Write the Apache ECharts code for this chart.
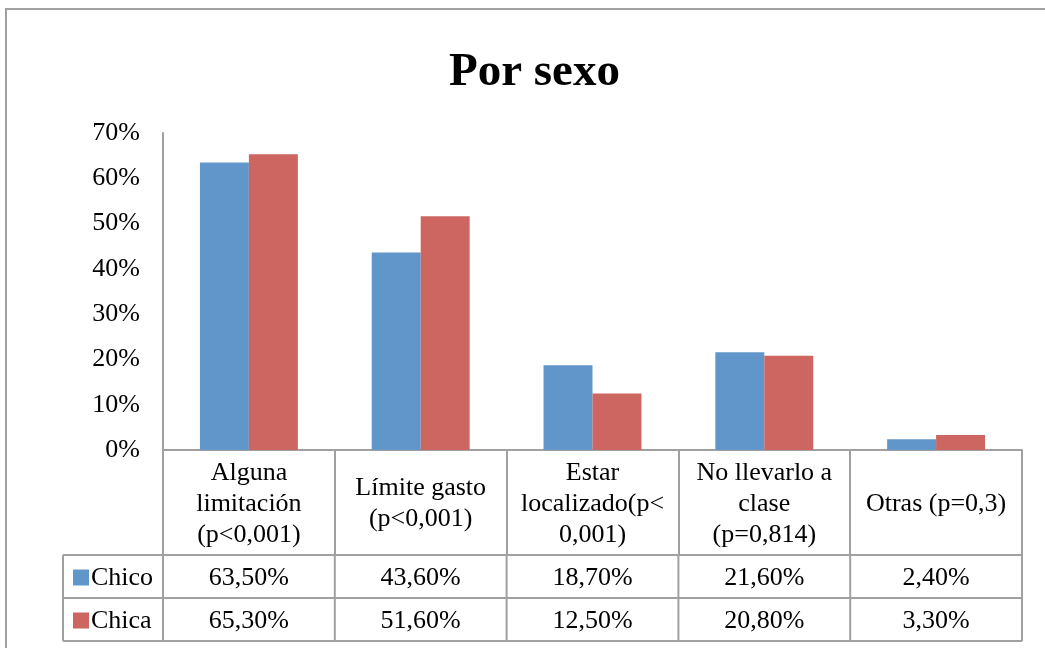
<!DOCTYPE html>
<html>
<head>
<meta charset="utf-8">
<script src="https://cdn.jsdelivr.net/npm/echarts@6/dist/echarts.min.js"></script>
<style>
  html, body { margin: 0; padding: 0; background: #fff; }
  #chart { width: 1045px; height: 648px; }
</style>
</head>
<body>
<div id="chart"></div>
<script>
const categories = [
  'Alguna\nlimitación\n(p<0,001)',
  'Límite gasto\n(p<0,001)',
  'Estar\nlocalizado(p<\n0,001)',
  'No llevarlo a\nclase\n(p=0,814)',
  'Otras (p=0,3)'
]
const seriesNames = ['Chico', 'Chica']
const chico = [63.5, 43.6, 18.7, 21.6, 2.4]
const chica = [65.3, 51.6, 12.5, 20.8, 3.3]
const yTicks = { min: 0, max: 70, interval: 10 }

const colors = ['#6096c9', '#cd6560']
const gridColor = '#a0a0a0'
const font = 'Liberation Serif, Times New Roman, serif'
const fs = 26

const chart = echarts.init(document.getElementById('chart'), null, { renderer: 'canvas' })

chart.setOption({
  animation: false,
  title: {
    text: 'Por sexo',
    left: 444,
    top: 44,
    textStyle: { fontFamily: font, fontSize: 47, fontWeight: 'bold', color: '#000' }
  },
  grid: { left: 163, right: 23, top: 133, bottom: 198, containLabel: false },
  xAxis: {
    type: 'category',
    data: categories,
    axisLine: { lineStyle: { color: gridColor, width: 2 } },
    axisTick: { show: true, length: 105, lineStyle: { color: gridColor, width: 2 } },
    axisLabel: {
      interval: 0,
      margin: 54,
      verticalAlign: 'middle',
      fontFamily: font,
      fontSize: fs,
      lineHeight: 31,
      color: '#000'
    }
  },
  yAxis: {
    type: 'value',
    min: yTicks.min,
    max: yTicks.max,
    interval: yTicks.interval,
    axisLine: { show: true, lineStyle: { color: gridColor, width: 2 } },
    axisTick: { show: false },
    splitLine: { show: false },
    axisLabel: {
      formatter: '{value}%',
      margin: 23,
      padding: [8, 0, 0, 0],
      fontFamily: font,
      fontSize: fs,
      color: '#000'
    }
  },
  series: [
    { name: seriesNames[0], type: 'bar', data: chico, barGap: '0%', barCategoryGap: '43%', itemStyle: { color: colors[0] } },
    { name: seriesNames[1], type: 'bar', data: chica, barGap: '0%', barCategoryGap: '43%', itemStyle: { color: colors[1] } }
  ]
})

// data table under the axis, placed from the axis scales
function drawTable() {
  const x0 = chart.convertToPixel({ xAxisIndex: 0 }, 0)
  const x1 = chart.convertToPixel({ xAxisIndex: 0 }, 1)
  const band = x1 - x0
  const yBase = chart.convertToPixel({ yAxisIndex: 0 }, 0)
  const headerH = 105
  const rowH = 43
  const legendLeft = 63
  const plotLeft = x0 - band / 2
  const plotRight = plotLeft + band * categories.length
  const rowsTop = yBase + headerH
  const rows = [chico, chica]
  const lineStyle = { stroke: gridColor, lineWidth: 2 }
  const g = []

  // outer chart border
  g.push({ type: 'rect', shape: { x: 6, y: 9, width: 1200, height: 800 }, style: { fill: null, stroke: gridColor, lineWidth: 2 }, silent: true })

  for (let r = 0; r <= rows.length; r++) {
    const y = rowsTop + r * rowH
    g.push({ type: 'line', shape: { x1: legendLeft, y1: y, x2: plotRight, y2: y }, style: lineStyle })
  }
  const vx = [legendLeft]
  for (let c = 0; c <= categories.length; c++) vx.push(plotLeft + c * band)
  vx.forEach(x => {
    g.push({ type: 'line', shape: { x1: x, y1: rowsTop, x2: x, y2: rowsTop + rows.length * rowH }, style: lineStyle })
  })

  rows.forEach((vals, r) => {
    const cy = rowsTop + r * rowH + rowH / 2 + 2
    g.push({ type: 'rect', shape: { x: 73, y: cy - 9, width: 16, height: 16 }, style: { fill: colors[r] } })
    g.push({ type: 'text', x: 91, y: cy, style: { text: seriesNames[r], font: fs + 'px ' + font, fill: '#000', verticalAlign: 'middle', align: 'left' } })
    vals.forEach((v, i) => {
      const cx = chart.convertToPixel({ xAxisIndex: 0 }, i)
      g.push({ type: 'text', x: cx, y: cy, style: { text: v.toFixed(2).replace('.', ',') + '%', font: fs + 'px ' + font, fill: '#000', align: 'center', verticalAlign: 'middle' } })
    })
  })

  chart.setOption({ graphic: g })
}
drawTable()
</script>
</body>
</html>
